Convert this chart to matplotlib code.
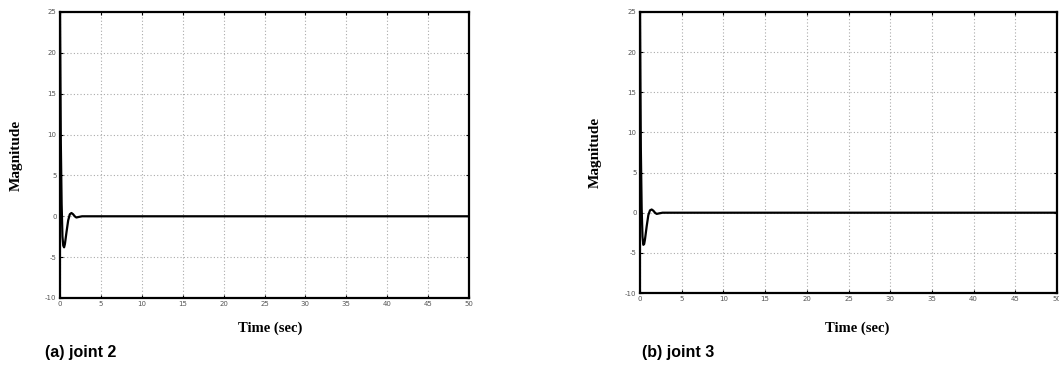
import matplotlib
matplotlib.use('Agg')
import matplotlib.pyplot as plt

plt.rcParams['axes.unicode_minus'] = False

# joint 2 response
t2 = [0, 0.05, 0.1, 0.2, 0.3, 0.4, 0.5, 0.6, 0.8, 1.0, 1.2, 1.4, 1.6, 1.8, 2.0, 2.3, 2.7, 3.2, 50]
m2 = [25, 17, 9, 1.5, -2.5, -3.6, -3.8, -3.4, -1.9, -0.5, 0.25, 0.4, 0.25, 0.0, -0.15, -0.08, 0, 0, 0]

# joint 3 response
t3 = [0, 0.05, 0.1, 0.2, 0.3, 0.4, 0.5, 0.6, 0.8, 1.0, 1.2, 1.4, 1.6, 1.8, 2.0, 2.3, 2.7, 3.2, 50]
m3 = [25, 16, 8, 0.5, -3.0, -4.0, -3.9, -3.3, -1.7, -0.3, 0.3, 0.4, 0.25, 0.0, -0.15, -0.08, 0, 0, 0]

xticks = list(range(0, 51, 5))
yticks = list(range(-10, 26, 5))

W, H = 1059, 370
fig = plt.figure(figsize=(W / 100, H / 100), dpi=100)


def panel(box, t, m, caption, cap_x, ylab_x, xlab_x):
    l, r, top, bot = box
    ax = fig.add_axes([l / W, 1 - bot / H, (r - l) / W, (bot - top) / H])
    ax.plot(t, m, color='black', lw=1.6)
    ax.set_xlim(0, 50)
    ax.set_ylim(-10, 25)
    ax.set_xticks(xticks)
    ax.set_yticks(yticks)
    ax.grid(True, linestyle=(0, (1, 2)), color='#aaaaaa', lw=0.8)
    for s in ax.spines.values():
        s.set_linewidth(1.6)
    ax.tick_params(direction='in', length=2.5, width=0.8, top=True, right=True,
                   labelsize=5, labelcolor='#555555', pad=2.5)
    fig.text(ylab_x / W, 1 - (top + bot) / 2 / H, 'Magnitude', rotation=90,
             ha='center', va='center', family='Liberation Serif',
             fontweight='bold', fontsize=11)
    fig.text(xlab_x / W, 1 - 328 / H, 'Time (sec)', ha='center', va='center',
             family='Liberation Serif', fontweight='bold', fontsize=10.5)
    fig.text(cap_x / W, 1 - 353 / H, caption, ha='left', va='center',
             family='Liberation Sans', fontweight='bold', fontsize=11.5)
    return ax


panel((60, 469, 12, 298), t2, m2, '(a) joint 2', 45, 16, 270)
panel((640, 1057, 12, 293), t3, m3, '(b) joint 3', 642, 595, 857)

plt.savefig('out.png', dpi=100)
